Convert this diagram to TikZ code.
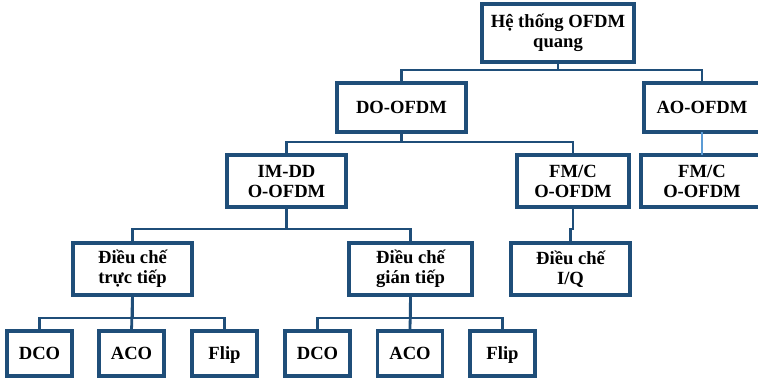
\documentclass[tikz,border=0pt]{standalone}
\usepackage{fontspec}
\setmainfont{Liberation Serif}
\definecolor{boxblue}{HTML}{1F4E79}
\definecolor{lightline}{HTML}{5B9BD5}
\begin{document}
\begin{tikzpicture}[x=1pt,y=-1pt,
  box/.style={draw=boxblue,line width=3.4pt,fill=white,inner sep=0pt,outer sep=0pt,
    align=center,font=\fontsize{18.6}{20}\selectfont\bfseries,
    minimum width=#1},
  box/.default=119pt,
  leaf/.style={box=65pt,minimum height=45pt,text height=14pt,text depth=2.5pt},
  conn/.style={draw=boxblue,line width=2.8pt},
  lconn/.style={draw=lightline,line width=1.8pt}]
\useasboundingbox[fill=white] (0,0) rectangle (758,378);
% bus coordinates
\coordinate (bus1) at (0,70);
\coordinate (bus2) at (0,142);
\coordinate (bus3) at (0,229);
\coordinate (bus4) at (0,318);
% nodes
\node[box=152pt,minimum height=58pt] (root) at (558,33) {Hệ thống OFDM\\quang};
\node[box=129pt,minimum height=49pt] (do) at (401.5,107.5) {DO-OFDM};
\node[box=116pt,minimum height=49pt] (ao) at (702,107.5) {AO-OFDM};
\node[box=119pt,minimum height=52pt] (imdd) at (286.5,181) {IM-DD\\O-OFDM};
\node[box=112pt,minimum height=52pt] (fmc) at (573,181) {FM/C\\O-OFDM};
\node[box=122pt,minimum height=52pt] (aofmc) at (702,181) {FM/C\\O-OFDM};
\node[box=119pt,minimum height=52pt] (tt) at (132.5,269) {Điều chế\\trực tiếp};
\node[box=123pt,minimum height=52pt] (gt) at (410.5,269) {Điều chế\\gián tiếp};
\node[box=119pt,minimum height=52pt] (iq) at (570.5,269) {Điều chế\\I/Q};
\node[leaf] (dco1) at (39.5,353.5) {DCO};
\node[leaf] (aco1) at (131.5,353.5) {ACO};
\node[leaf] (flip1) at (224.5,353.5) {Flip};
\node[leaf] (dco2) at (317.5,353.5) {DCO};
\node[leaf] (aco2) at (410,353.5) {ACO};
\node[leaf] (flip2) at (502.5,353.5) {Flip};
% connectors
\draw[conn] (root.south) -- (root.south |- bus1) -| (do.north);
\draw[conn] (root.south |- bus1) -| (ao.north);
\draw[lconn] (ao.south) -- (aofmc.north);
\draw[conn] (do.south) -- (do.south |- bus2) -| (imdd.north);
\draw[conn] (do.south |- bus2) -| (fmc.north);
\draw[conn] (fmc.south) -- (fmc.south |- bus3) -| (iq.north);
\draw[conn] (imdd.south) -- (imdd.south |- bus3) -| (tt.north);
\draw[conn] (imdd.south |- bus3) -| (gt.north);
\draw[conn] (tt.south) -- (tt.south |- bus4) -| (dco1.north);
\draw[conn] (tt.south |- bus4) -| (flip1.north);
\draw[conn] (tt.south) -- (aco1.north);
\draw[conn] (gt.south) -- (gt.south |- bus4) -| (dco2.north);
\draw[conn] (gt.south |- bus4) -| (flip2.north);
\draw[conn] (gt.south) -- (aco2.north);
\end{tikzpicture}
\end{document}
